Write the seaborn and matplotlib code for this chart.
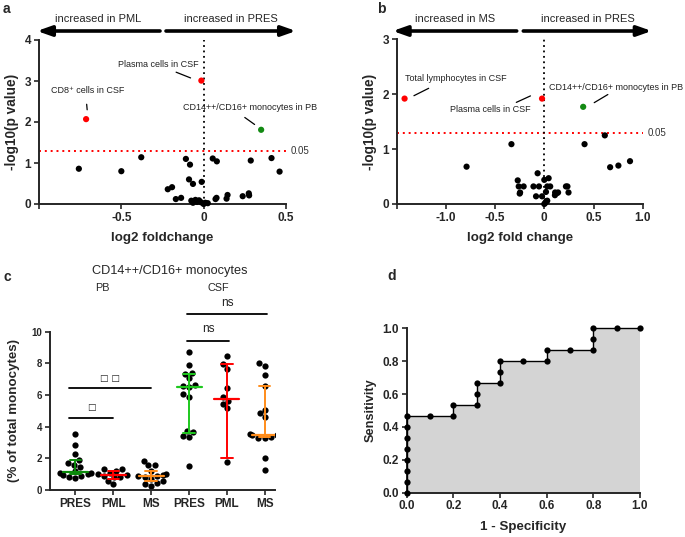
import numpy as np
import pandas as pd
import matplotlib
matplotlib.use("Agg")
import matplotlib.pyplot as plt
import seaborn as sns

# ---- panel a: volcano PRES vs PML ----
fc_a = [-0.758, -0.50, -0.379, -0.108, -0.083, -0.089, -0.065, -0.012, -0.218, -0.192,
        -0.169, -0.137, -0.075, -0.065, -0.05, -0.04, -0.028, -0.015, 0.0, 0.01, 0.025,
        0.055, 0.08, 0.072, 0.078, 0.139, 0.145, 0.237, 0.274, 0.276, 0.286, 0.412, 0.461]
logp_a = [0.86, 0.80, 1.14, 1.10, 0.96, 0.60, 0.49, 0.54, 0.36, 0.41,
          0.12, 0.15, 0.08, 0.03, 0.10, 0.05, 0.09, 0.04, 0.0, 0.03, 0.02,
          1.11, 1.04, 0.12, 0.15, 0.13, 0.22, 0.19, 0.26, 0.21, 1.06, 1.12, 0.79]
red_fc_a = [-0.714, -0.014]
red_logp_a = [2.07, 3.01]
green_fc_a = [0.349]
green_logp_a = [1.81]

# ---- panel b: volcano PRES vs MS ----
fc_b = [-0.79, -0.334, 0.409, 0.615, 0.669, 0.753, 0.871,
        -0.27, -0.26, -0.21, -0.246, -0.25, -0.11, -0.068, -0.054, -0.084, 0.0, 0.044,
        0.03, 0.06, 0.017, 0.02, 0.01, 0.03, 0.0, 0.108, 0.11, 0.13, 0.14, 0.22, 0.235,
        0.246, -0.023]
logp_b = [0.68, 1.09, 1.09, 1.25, 0.67, 0.70, 0.78,
          0.43, 0.32, 0.32, 0.21, 0.19, 0.32, 0.56, 0.32, 0.14, 0.44, 0.47,
          0.32, 0.32, 0.22, 0.05, 0.02, 0.06, 0.0, 0.16, 0.21, 0.20, 0.21, 0.32, 0.32,
          0.21, 0.14]
red_fc_b = [-1.42, -0.023]
red_logp_b = [1.92, 1.92]
green_fc_b = [0.395]
green_logp_b = [1.77]

threshold = 1.301  # -log10(0.05)

# ---- panel c: CD14++/CD16+ monocytes ----
groups = ["PB PRES", "PB PML", "PB MS", "CSF PRES", "CSF PML", "CSF MS"]
group_labels = ["PRES", "PML", "MS", "PRES", "PML", "MS"]
pb_pres = [3.55, 2.85, 2.3, 1.9, 1.7, 1.6, 1.45, 1.2, 1.1, 1.05, 1.0, 0.95, 0.9, 0.8, 0.75]
pb_pml = [1.35, 1.3, 1.2, 1.1, 1.0, 0.95, 0.9, 0.85, 0.8, 0.6, 0.35]
pb_ms = [1.85, 1.6, 1.55, 1.2, 1.0, 0.95, 0.9, 0.9, 0.8, 0.7, 0.55, 0.45, 0.4, 0.25]
csf_pres = [8.7, 7.9, 7.4, 7.35, 7.05, 6.65, 6.6, 6.5, 6.05, 5.9, 3.75, 3.65, 3.4, 3.35, 1.5]
csf_pml = [8.45, 7.95, 7.65, 6.45, 5.85, 5.65, 5.45, 5.15, 1.75]
csf_ms = [8.05, 7.85, 7.25, 6.6, 5.05, 4.85, 4.6, 3.55, 3.5, 3.45, 3.35, 3.3, 3.3, 2.05, 1.25]
medians = [1.16, 0.95, 0.9, 6.53, 5.77, 3.5]
q1 = [1.0, 0.72, 0.58, 3.62, 2.05, 3.35]
q3 = [1.87, 1.17, 1.18, 7.35, 7.94, 6.6]
group_colors = ["#0a8a0a", "#ff0000", "#ff8c1a", "#1ec81e", "#ff0000", "#ff8c1a"]

# ---- panel d: ROC ----
roc_fpr = [0, 0, 0, 0, 0, 0, 0, 0, 0.1, 0.2, 0.2, 0.3, 0.3, 0.3, 0.4, 0.4, 0.4,
           0.5, 0.6, 0.6, 0.7, 0.8, 0.8, 0.8, 0.9, 1.0]
roc_tpr = [0, 1/15, 2/15, 3/15, 4/15, 5/15, 6/15, 7/15, 7/15, 7/15, 8/15, 8/15, 9/15,
           10/15, 10/15, 11/15, 12/15, 12/15, 12/15, 13/15, 13/15, 13/15, 14/15, 1.0,
           1.0, 1.0]

sns.set_theme(style="ticks")
plt.rcParams["font.family"] = ["Liberation Sans", "DejaVu Sans"]
plt.rcParams["axes.linewidth"] = 1.4
plt.rcParams["xtick.major.width"] = 1.2
plt.rcParams["ytick.major.width"] = 1.2
plt.rcParams["xtick.major.size"] = 3.5
plt.rcParams["ytick.major.size"] = 3.5
plt.rcParams["xtick.major.pad"] = 2
plt.rcParams["ytick.major.pad"] = 2

W, H = 685, 537
fig = plt.figure(figsize=(W / 100, H / 100), dpi=100)


def px_axes(left, top, right, bottom):
    return fig.add_axes([left / W, 1 - bottom / H, (right - left) / W, (bottom - top) / H])


def set_ticks(ax, xt, xl, yt, yl, xsize=8.5, ysize=8.5):
    ax.set_xticks(xt, xl, fontsize=xsize, fontweight="bold")
    ax.set_yticks(yt, yl, fontsize=ysize, fontweight="bold")
    sns.despine(ax=ax)


def header_arrows(x0, x1, x2, x3, y, left_txt, right_txt):
    yf = 1 - y / H
    for a, b in [(x1, x0), (x2, x3)]:
        fig.add_artist(matplotlib.patches.FancyArrowPatch(
            (a / W, yf), (b / W, yf), transform=fig.transFigure,
            arrowstyle="-|>,head_length=0.85,head_width=0.3", mutation_scale=10,
            lw=2.6, color="black", shrinkA=0, shrinkB=0))
    fig.text((x0 + x1) / 2 / W, 1 - 19 / H, left_txt, ha="center", va="center", fontsize=8)
    fig.text((x2 + x3) / 2 / W, 1 - 19 / H, right_txt, ha="center", va="center", fontsize=8)


def volcano(ax, fc, lp, rfc, rlp, gfc, glp, xlim, ylim, xticks, xticklabels, xlabel):
    ax.axhline(threshold, color="red", ls=(0, (1, 2)), lw=1.4, zorder=1)
    ax.plot([0, 0], [0, ylim[1]], color="black", ls=(0, (1, 2)), lw=1.3, zorder=1)
    sns.scatterplot(x=fc, y=lp, ax=ax, color="black", s=20, edgecolor="none", zorder=3, clip_on=False)
    sns.scatterplot(x=rfc, y=rlp, ax=ax, color="#ff0000", s=20, edgecolor="none", zorder=3)
    sns.scatterplot(x=gfc, y=glp, ax=ax, color="#138a13", s=20, edgecolor="none", zorder=3)
    ax.set_xlim(xlim)
    ax.set_ylim(ylim)
    yt = list(range(int(ylim[1]) + 1))
    set_ticks(ax, xticks, xticklabels, yt, [str(v) for v in yt])
    ax.set_xlabel(xlabel, fontsize=9.6, fontweight="bold", labelpad=6)
    ax.set_ylabel("-log10(p value)", fontsize=9.8, fontweight="bold", labelpad=4)
    ax.text(1.02, threshold, "0.05", transform=ax.get_yaxis_transform(), fontsize=7,
            va="center", ha="left", color="#333333")


def note(ax, text, xy, xyline, xytext, ha="center"):
    ax.annotate("", xy=xy, xytext=xyline, arrowprops=dict(arrowstyle="-", lw=0.9, color="black"))
    ax.text(xytext[0], xytext[1], text, ha=ha, va="center", fontsize=6.5, color="#222222")


# panel a
ax_a = px_axes(39, 40, 286, 204)
volcano(ax_a, fc_a, logp_a, red_fc_a, red_logp_a, green_fc_a, green_logp_a,
        (-1.0, 0.5), (0, 4), [-1.0, -0.5, 0, 0.5], ["", "-0.5", "0", "0.5"], "log2 foldchange")
note(ax_a, "Plasma cells in CSF", (-0.064, 3.05), (-0.183, 3.24), (-0.274, 3.41))
note(ax_a, "CD8\u207a cells in CSF", (-0.706, 2.23), (-0.712, 2.50), (-0.706, 2.76))
note(ax_a, "CD14++/CD16+ monocytes in PB", (0.323, 1.90), (0.236, 2.15), (0.283, 2.36))
header_arrows(37, 160, 166, 296, 31, "increased in PML", "increased in PRES")

# panel b
ax_b = px_axes(396.7, 39.3, 642.7, 204)
volcano(ax_b, fc_b, logp_b, red_fc_b, red_logp_b, green_fc_b, green_logp_b,
        (-1.5, 1.0), (0, 3), [-1.5, -1.0, -0.5, 0, 0.5, 1.0],
        ["", "-1.0", "-0.5", "0", "0.5", "1.0"], "log2 fold change")
note(ax_b, "Total lymphocytes in CSF", (-1.35, 1.95), (-1.15, 2.13), (-0.90, 2.28))
note(ax_b, "CD14++/CD16+ monocytes in PB", (0.483, 1.82), (0.67, 2.02), (0.73, 2.12))
note(ax_b, "Plasma cells in CSF", (-0.115, 1.99), (-0.31, 1.83), (-0.547, 1.72))
header_arrows(392.7, 516.7, 523.3, 651.7, 31, "increased in MS", "increased in PRES")

# panel c
ax_c = px_axes(50, 331.7, 275, 490)
all_vals = [pb_pres, pb_pml, pb_ms, csf_pres, csf_pml, csf_ms]
df_c = pd.DataFrame({
    "group": np.repeat(groups, [len(v) for v in all_vals]),
    "value": np.concatenate(all_vals),
})
sns.swarmplot(data=df_c, x="group", y="value", order=groups, ax=ax_c, color="black",
              size=4.5, zorder=2)
for i, (m, lo, hi, c) in enumerate(zip(medians, q1, q3, group_colors)):
    ax_c.plot([i, i], [lo, hi], color=c, lw=1.4, zorder=3)
    ax_c.plot([i - 0.33, i + 0.33], [m, m], color=c, lw=1.6, zorder=3)
    ax_c.plot([i - 0.15, i + 0.15], [lo, lo], color=c, lw=1.4, zorder=3)
    ax_c.plot([i - 0.15, i + 0.15], [hi, hi], color=c, lw=1.4, zorder=3)
ax_c.set_xlim(-0.67, 5.27)
ax_c.set_ylim(0, 10)
set_ticks(ax_c, range(6), group_labels, [0, 2, 4, 6, 8, 10], ["0", "2", "4", "6", "8", "10"],
          xsize=8.5, ysize=7)
ax_c.set_xlabel("")
ax_c.set_ylabel("(% of total monocytes)", fontsize=9.6, fontweight="bold", labelpad=8)
# significance bars
sig = [(-0.17, 2.0, 6.42, "\u25a1 \u25a1"), (-0.17, 1.0, 4.57, "\u25a1"),
       (2.96, 4.06, 9.43, "ns"), (2.96, 5.06, 11.1, "ns")]
for x0, x1, yb, t in sig:
    ax_c.plot([x0, x1], [yb, yb], color="black", lw=1.3, clip_on=False)
    box = "\u25a1" in t
    ax_c.text((x0 + x1) / 2, yb + 0.35, t, ha="center", va="bottom", fontsize=6.5 if box else 8.5,
              family=["DejaVu Sans"] if box else None, color="#222222", clip_on=False)
fig.text(170 / W, 1 - 271 / H, "CD14++/CD16+ monocytes", ha="center", va="center", fontsize=9.2)
fig.text(102 / W, 1 - 288 / H, "PB", ha="center", va="center", fontsize=7.8)
fig.text(218 / W, 1 - 288 / H, "CSF", ha="center", va="center", fontsize=7.8)

# panel d
ax_d = px_axes(406.7, 328.3, 640, 492.7)
ax_d.fill_between(roc_fpr, roc_tpr, 0, color="#d4d4d4", lw=0, zorder=1)
sns.lineplot(x=roc_fpr, y=roc_tpr, ax=ax_d, sort=False, estimator=None, color="black", lw=1.0,
             marker="o", markersize=4.5, markeredgewidth=0, zorder=3, clip_on=False)
ax_d.set_xlim(0, 1)
ax_d.set_ylim(0, 1)
tk = [0, 0.2, 0.4, 0.6, 0.8, 1.0]
tl = ["0.0", "0.2", "0.4", "0.6", "0.8", "1.0"]
set_ticks(ax_d, tk, tl, tk, tl)
ax_d.set_xlabel("1 - Specificity", fontsize=9.6, fontweight="bold", labelpad=6)
ax_d.set_ylabel("Sensitivity", fontsize=9.2, fontweight="bold", labelpad=4)

# panel letters
for x, y, t in [(3, 9, "a"), (377, 9, "b"), (3, 277, "c"), (387, 276, "d")]:
    fig.text(x / W, 1 - y / H, t, fontsize=10, fontweight="bold", ha="left", va="center")

fig.savefig("out.png", dpi=100)
